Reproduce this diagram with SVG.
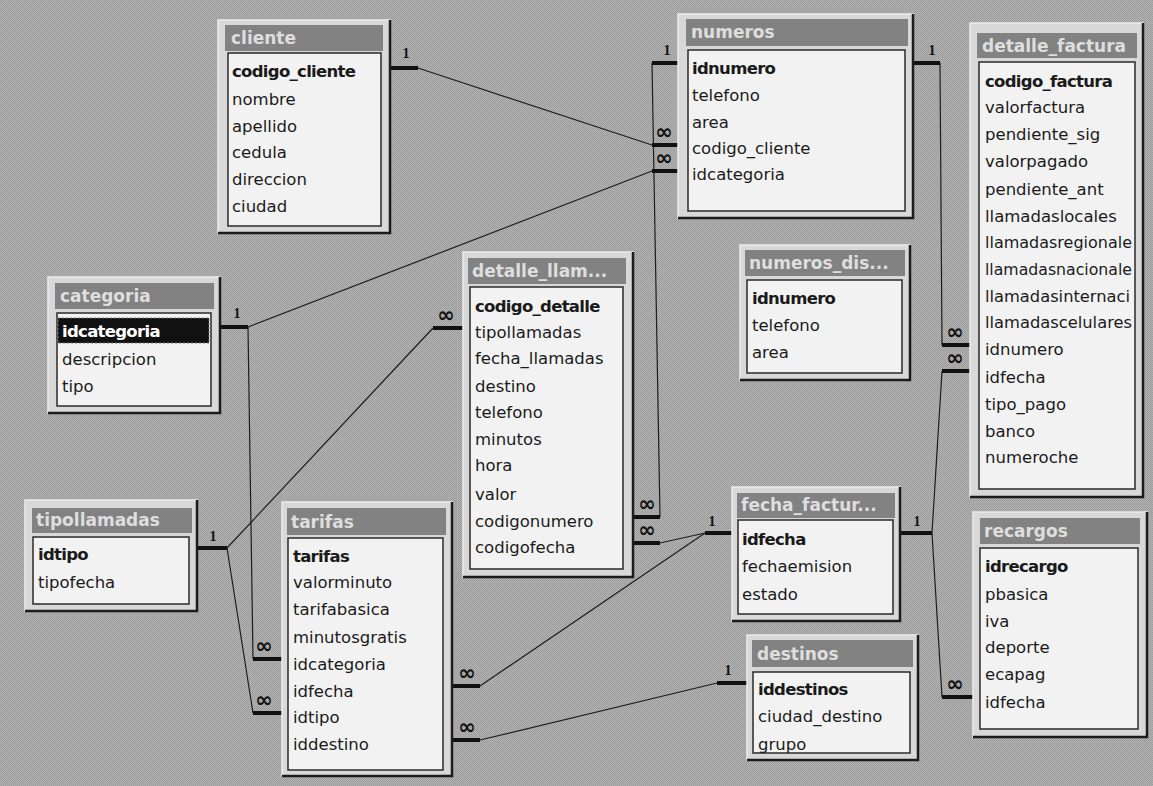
<svg xmlns="http://www.w3.org/2000/svg" width="1153" height="786" viewBox="0 0 1153 786">
<style>
.win{fill:#d8d8d8;stroke:#ececec;stroke-width:1.5}
.edge{fill:none;stroke:#1c1c1c;stroke-width:2.5}
.tbar{fill:#828282}
.body{fill:#f2f2f2;stroke:#2a2a2a;stroke-width:1.5}
.ttl{font-family:"DejaVu Sans",sans-serif;font-weight:bold;font-size:17px;fill:#dedede}
.fld{font-family:"DejaVu Sans",sans-serif;font-size:16.5px;fill:#1a1a1a}
.pk{font-weight:bold;letter-spacing:-0.7px}
.sel{fill:#111}
.ln{stroke:#1e1e1e;stroke-width:1.2;fill:none}
.tb{stroke:#111;stroke-width:4}
.one{font-family:"Liberation Serif",serif;font-weight:bold;font-size:14px;fill:#111;text-anchor:middle}
.inf{font-family:"DejaVu Sans",sans-serif;font-weight:bold;font-size:21px;fill:#111;text-anchor:middle}
</style>
<defs>
<pattern id="dith" width="2" height="2" patternUnits="userSpaceOnUse">
<rect width="2" height="2" fill="#b2b2b2"/>
<rect width="1" height="1" fill="#9c9c9c"/>
<rect x="1" y="1" width="1" height="1" fill="#9c9c9c"/>
</pattern>
</defs>
<rect width="1153" height="786" fill="url(#dith)"/>

<g id="connectors">
<path class="ln" d="M418,68 L652,145"/>
<path class="ln" d="M940,63 L942,345"/>
<path class="ln" d="M248,327 L652,171"/>
<path class="ln" d="M248,327 L253,659"/>
<path class="ln" d="M227,548 L433,328"/>
<path class="ln" d="M227,548 L253,713"/>
<path class="ln" d="M652,63 L660,517"/>
<path class="ln" d="M660,543 L705,533"/>
<path class="ln" d="M932,533 L942,371"/>
<path class="ln" d="M932,533 L942,697"/>
<path class="ln" d="M705,533 L480,686"/>
<path class="ln" d="M480,740 L717,683"/>
<path class="tb" d="M390,68 H418"/><text class="one" x="406" y="58">1</text>
<path class="tb" d="M652,63 H678"/><text class="one" x="667" y="55">1</text>
<path class="tb" d="M652,145 H678"/><text class="inf" x="664" y="139">∞</text>
<path class="tb" d="M652,171 H678"/><text class="inf" x="664" y="165">∞</text>
<path class="tb" d="M913,63 H940"/><text class="one" x="932" y="55">1</text>
<path class="tb" d="M942,345 H970"/><text class="inf" x="955" y="339">∞</text>
<path class="tb" d="M942,371 H970"/><text class="inf" x="955" y="365">∞</text>
<path class="tb" d="M220,327 H248"/><text class="one" x="237" y="318">1</text>
<path class="tb" d="M253,659 H282"/><text class="inf" x="264" y="653">∞</text>
<path class="tb" d="M197,548 H227"/><text class="one" x="213" y="541">1</text>
<path class="tb" d="M253,713 H282"/><text class="inf" x="264" y="707">∞</text>
<path class="tb" d="M433,328 H463"/><text class="inf" x="446" y="322">∞</text>
<path class="tb" d="M633,517 H660"/><text class="inf" x="647" y="511">∞</text>
<path class="tb" d="M633,543 H660"/><text class="inf" x="647" y="537">∞</text>
<path class="tb" d="M705,533 H732"/><text class="one" x="712" y="526">1</text>
<path class="tb" d="M900,533 H932"/><text class="one" x="917" y="526">1</text>
<path class="tb" d="M942,697 H973"/><text class="inf" x="955" y="691">∞</text>
<path class="tb" d="M452,686 H480"/><text class="inf" x="467" y="680">∞</text>
<path class="tb" d="M452,740 H480"/><text class="inf" x="467" y="734">∞</text>
<path class="tb" d="M717,683 H747"/><text class="one" x="728" y="675">1</text>
</g>

<g id="cliente">
<rect class="win" x="218" y="20" width="172" height="213"/>
<path class="edge" d="M390,20 V233 H218"/>
<rect class="tbar" x="225" y="25" width="158" height="26"/>
<text class="ttl" x="231" y="44">cliente</text>
<rect class="body" x="228" y="53" width="153" height="173"/>
<text class="fld pk" x="232" y="77">codigo_cliente</text>
<text class="fld" x="232" y="105">nombre</text>
<text class="fld" x="232" y="132">apellido</text>
<text class="fld" x="232" y="158">cedula</text>
<text class="fld" x="232" y="185">direccion</text>
<text class="fld" x="232" y="212">ciudad</text>
</g>

<g id="numeros">
<rect class="win" x="678" y="14" width="235" height="204"/>
<path class="edge" d="M913,14 V218 H678"/>
<rect class="tbar" x="686" y="19" width="222" height="27"/>
<text class="ttl" x="691" y="38">numeros</text>
<rect class="body" x="688" y="50" width="217" height="161"/>
<text class="fld pk" x="692" y="74">idnumero</text>
<text class="fld" x="692" y="101">telefono</text>
<text class="fld" x="692" y="128">area</text>
<text class="fld" x="692" y="154">codigo_cliente</text>
<text class="fld" x="692" y="180">idcategoria</text>
</g>

<g id="detalle_factura">
<rect class="win" x="970" y="23" width="173" height="474"/>
<path class="edge" d="M1143,23 V497 H970"/>
<rect class="tbar" x="977" y="33" width="160" height="25"/>
<text class="ttl" x="982" y="52">detalle_factura</text>
<rect class="body" x="979" y="62" width="156" height="427"/>
<text class="fld pk" x="985" y="87">codigo_factura</text>
<text class="fld" x="985" y="113">valorfactura</text>
<text class="fld" x="985" y="140">pendiente_sig</text>
<text class="fld" x="985" y="167">valorpagado</text>
<text class="fld" x="985" y="195">pendiente_ant</text>
<text class="fld" x="985" y="222">llamadaslocales</text>
<text class="fld" x="985" y="248" textLength="147" lengthAdjust="spacingAndGlyphs">llamadasregionale</text>
<text class="fld" x="985" y="275" textLength="147" lengthAdjust="spacingAndGlyphs">llamadasnacionale</text>
<text class="fld" x="985" y="302" textLength="145" lengthAdjust="spacingAndGlyphs">llamadasinternaci</text>
<text class="fld" x="985" y="328" textLength="147" lengthAdjust="spacingAndGlyphs">llamadascelulares</text>
<text class="fld" x="985" y="355">idnumero</text>
<text class="fld" x="985" y="383">idfecha</text>
<text class="fld" x="985" y="410">tipo_pago</text>
<text class="fld" x="985" y="437">banco</text>
<text class="fld" x="985" y="463">numeroche</text>
</g>

<g id="categoria">
<rect class="win" x="48" y="277" width="172" height="136"/>
<path class="edge" d="M220,277 V413 H48"/>
<rect class="tbar" x="55" y="283" width="159" height="26"/>
<text class="ttl" x="60" y="302">categoria</text>
<rect class="body" x="57" y="313" width="154" height="93"/>
<rect class="sel" x="58" y="318" width="151" height="25" stroke="#777" stroke-dasharray="2 2"/>
<text class="fld pk" x="62" y="337" style="fill:#ffffff">idcategoria</text>
<text class="fld" x="62" y="365">descripcion</text>
<text class="fld" x="62" y="392">tipo</text>
</g>

<g id="detalle_llamadas">
<rect class="win" x="463" y="252" width="170" height="325"/>
<path class="edge" d="M633,252 V577 H463"/>
<rect class="tbar" x="468" y="258" width="158" height="26"/>
<text class="ttl" x="472" y="277">detalle_llam...</text>
<rect class="body" x="470" y="287" width="153" height="282"/>
<text class="fld pk" x="475" y="312">codigo_detalle</text>
<text class="fld" x="475" y="338">tipollamadas</text>
<text class="fld" x="475" y="364">fecha_llamadas</text>
<text class="fld" x="475" y="392">destino</text>
<text class="fld" x="475" y="418">telefono</text>
<text class="fld" x="475" y="445">minutos</text>
<text class="fld" x="475" y="471">hora</text>
<text class="fld" x="475" y="500">valor</text>
<text class="fld" x="475" y="527">codigonumero</text>
<text class="fld" x="475" y="553">codigofecha</text>
</g>

<g id="numeros_dis">
<rect class="win" x="740" y="245" width="170" height="135"/>
<path class="edge" d="M910,245 V380 H740"/>
<rect class="tbar" x="745" y="250" width="160" height="26"/>
<text class="ttl" x="749" y="269">numeros_dis...</text>
<rect class="body" x="747" y="280" width="155" height="93"/>
<text class="fld pk" x="752" y="304">idnumero</text>
<text class="fld" x="752" y="331">telefono</text>
<text class="fld" x="752" y="358">area</text>
</g>

<g id="tipollamadas">
<rect class="win" x="25" y="500" width="172" height="111"/>
<path class="edge" d="M197,500 V611 H25"/>
<rect class="tbar" x="32" y="508" width="160" height="25"/>
<text class="ttl" x="36" y="526">tipollamadas</text>
<rect class="body" x="33" y="537" width="156" height="67"/>
<text class="fld pk" x="38" y="560">idtipo</text>
<text class="fld" x="38" y="588">tipofecha</text>
</g>

<g id="tarifas">
<rect class="win" x="282" y="502" width="170" height="274"/>
<path class="edge" d="M452,502 V776 H282"/>
<rect class="tbar" x="287" y="508" width="159" height="27"/>
<text class="ttl" x="291" y="528">tarifas</text>
<rect class="body" x="288" y="538" width="155" height="232"/>
<text class="fld pk" x="293" y="562">tarifas</text>
<text class="fld" x="293" y="588">valorminuto</text>
<text class="fld" x="293" y="615">tarifabasica</text>
<text class="fld" x="293" y="643">minutosgratis</text>
<text class="fld" x="293" y="670">idcategoria</text>
<text class="fld" x="293" y="697">idfecha</text>
<text class="fld" x="293" y="723">idtipo</text>
<text class="fld" x="293" y="750">iddestino</text>
</g>

<g id="fecha_factura">
<rect class="win" x="732" y="487" width="168" height="134"/>
<path class="edge" d="M900,487 V621 H732"/>
<rect class="tbar" x="737" y="493" width="158" height="25"/>
<text class="ttl" x="741" y="511">fecha_factur...</text>
<rect class="body" x="738" y="520" width="155" height="94"/>
<text class="fld pk" x="742" y="545">idfecha</text>
<text class="fld" x="742" y="572">fechaemision</text>
<text class="fld" x="742" y="600">estado</text>
</g>

<g id="destinos">
<rect class="win" x="747" y="635" width="171" height="125"/>
<path class="edge" d="M918,635 V760 H747"/>
<rect class="tbar" x="752" y="640" width="161" height="27"/>
<text class="ttl" x="757" y="660">destinos</text>
<rect class="body" x="753" y="672" width="157" height="81"/>
<text class="fld pk" x="758" y="695">iddestinos</text>
<text class="fld" x="758" y="722">ciudad_destino</text>
<text class="fld" x="758" y="750">grupo</text>
</g>

<g id="recargos">
<rect class="win" x="973" y="512" width="174" height="225"/>
<path class="edge" d="M1147,512 V737 H973"/>
<rect class="tbar" x="980" y="518" width="160" height="26"/>
<text class="ttl" x="984" y="537">recargos</text>
<rect class="body" x="980" y="548" width="158" height="181"/>
<text class="fld pk" x="985" y="572">idrecargo</text>
<text class="fld" x="985" y="600">pbasica</text>
<text class="fld" x="985" y="627">iva</text>
<text class="fld" x="985" y="653">deporte</text>
<text class="fld" x="985" y="680">ecapag</text>
<text class="fld" x="985" y="708">idfecha</text>
</g>
</svg>
